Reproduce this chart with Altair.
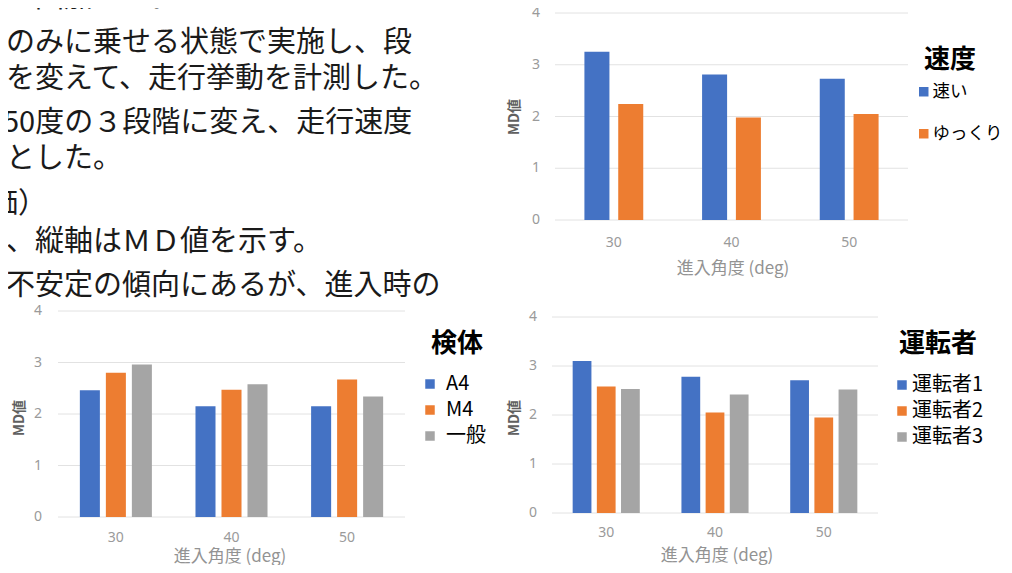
import altair as alt
import pandas as pd

# ---------------- data ----------------
angles = ["30", "40", "50"]
y_ticks = [0, 1, 2, 3, 4]
colors = ["#4472C4", "#ED7D31", "#A5A5A5"]

speed_series = ["速い", "ゆっくり"]
speed_fast = [3.25, 2.81, 2.73]
speed_slow = [2.24, 1.98, 2.05]

sample_series = ["A4", "M4", "一般"]
sample_a4 = [2.46, 2.15, 2.15]
sample_m4 = [2.80, 2.47, 2.67]
sample_gen = [2.96, 2.58, 2.34]

driver_series = ["運転者1", "運転者2", "運転者3"]
driver_1 = [3.10, 2.78, 2.71]
driver_2 = [2.58, 2.05, 1.95]
driver_3 = [2.53, 2.42, 2.52]

x_title = "進入角度 (deg)"
y_title = "MD値"

doc_lines = [
    "を１回加えた。",
    "のみに乗せる状態で実施し、段",
    "を変えて、走行挙動を計測した。",
    "50度の３段階に変え、走行速度",
    "とした。",
    "価）",
    "、縦軸はＭＤ値を示す。",
    "不安定の傾向にあるが、進入時の",
]
# layout (view px): left start and vertical centre of each document line
doc_left = [-31, -2, -2, -5, -2, -19, -2, -2]
doc_y = [-10, 35, 71, 115, 151, 196, 234, 278]

CJK = "Noto Sans CJK JP"
TICK_COLOR = "#9a9a9a"
GRID_COLOR = "#e2e2e2"


def long_table(series, columns):
    rows = []
    for s, vals in zip(series, columns):
        for a, v in zip(angles, vals):
            rows.append({"angle": a, "series": s, "value": v})
    return pd.DataFrame(rows)


def panel(df, series, legend_title, xr, yr, pad_in, pad_out, off_pad,
          ytick_x, xtick_y, ytitle_xy, xtitle_xy, ltitle_xy, legend):
    xs = alt.Scale(domain=angles, range=xr, paddingInner=pad_in, paddingOuter=pad_out)
    ys = alt.Scale(domain=[0, 4], range=yr, nice=False, zero=True)
    ticks = pd.DataFrame({"tick": y_ticks})

    grid = alt.Chart(ticks).mark_rule(color=GRID_COLOR, strokeWidth=1).encode(
        y=alt.Y("tick:Q", scale=ys, axis=None),
        x=alt.value(xr[0]), x2=alt.value(xr[1]),
    )
    bars = alt.Chart(df).mark_bar().encode(
        x=alt.X("angle:N", scale=xs, axis=None, sort=angles),
        xOffset=alt.XOffset("series:N", sort=series,
                            scale=alt.Scale(domain=series, paddingInner=off_pad, paddingOuter=0)),
        y=alt.Y("value:Q", scale=ys, axis=None),
        color=alt.Color(
            "series:N", sort=series,
            scale=alt.Scale(domain=series, range=colors[:len(series)]),
            legend=alt.Legend(
                title=None, orient="none",
                legendX=legend["x"], legendY=legend["y"],
                labelFont=CJK, labelFontSize=legend.get("lfs", 20), labelColor="#000000",
                labelOffset=legend["lo"], rowPadding=legend["rp"], labelLimit=200,
                symbolType="square", symbolSize=90, symbolStrokeWidth=0,
                symbolOpacity=1, padding=0,
            ),
        ),
    )
    ylabels = alt.Chart(ticks).mark_text(
        font="Noto Sans", fontSize=14, color=TICK_COLOR, align="center", baseline="middle"
    ).encode(
        y=alt.Y("tick:Q", scale=ys, axis=None), x=alt.value(ytick_x), text="tick:Q"
    )
    xlabels = alt.Chart(pd.DataFrame({"angle": angles})).mark_text(
        font="Noto Sans", fontSize=14, color=TICK_COLOR, align="center", baseline="middle"
    ).encode(
        x=alt.X("angle:N", scale=xs, axis=None, sort=angles), y=alt.value(xtick_y), text="angle:N"
    )
    ytitle = alt.Chart(pd.DataFrame({"t": [y_title]})).mark_text(
        font=CJK, fontSize=14, fontWeight="bold", color="#606060", angle=270,
        align="center", baseline="middle"
    ).encode(x=alt.value(ytitle_xy[0]), y=alt.value(ytitle_xy[1]), text="t:N")
    xtitle = alt.Chart(pd.DataFrame({"t": [x_title]})).mark_text(
        font=CJK, fontSize=17, color="#939393", align="center", baseline="middle"
    ).encode(x=alt.value(xtitle_xy[0]), y=alt.value(xtitle_xy[1]), text="t:N")
    ltitle = alt.Chart(pd.DataFrame({"t": [legend_title]})).mark_text(
        font=CJK, fontSize=26, fontWeight="bold", color="#000000", align="left", baseline="middle"
    ).encode(x=alt.value(ltitle_xy[0]), y=alt.value(ltitle_xy[1]), text="t:N")
    return alt.layer(grid, bars, ylabels, xlabels, ytitle, xtitle, ltitle)


p1 = panel(long_table(speed_series, [speed_fast, speed_slow]), speed_series, "速度",
           xr=[547, 900], yr=[212, 5], pad_in=0.5, pad_out=0.25, off_pad=0.26,
           ytick_x=528, xtick_y=235, ytitle_xy=(507, 109), xtitle_xy=(725, 261),
           ltitle_xy=(916, 52),
           legend={"x": 907, "y": 75, "lo": 0, "rp": 23, "lfs": 17.5})

p2 = panel(long_table(sample_series, [sample_a4, sample_m4, sample_gen]), sample_series, "検体",
           xr=[50, 397], yr=[509, 303], pad_in=0.377, pad_out=0.189, off_pad=0.23,
           ytick_x=30, xtick_y=530, ytitle_xy=(12, 410), xtitle_xy=(222, 549),
           ltitle_xy=(423, 336),
           legend={"x": 412, "y": 366, "lo": 6, "rp": 6})

p3 = panel(long_table(driver_series, [driver_1, driver_2, driver_3]), driver_series, "運転者",
           xr=[544, 870], yr=[505, 309], pad_in=0.383, pad_out=0.19, off_pad=0.224,
           ytick_x=525, xtick_y=525, ytitle_xy=(507, 410), xtitle_xy=(709, 548),
           ltitle_xy=(891, 336),
           legend={"x": 884, "y": 367, "lo": 0, "rp": 6})

doc_layers = [
    alt.Chart(pd.DataFrame({"t": [line]})).mark_text(
        font=CJK, fontSize=29, color="#1a1a1a", align="left", baseline="middle"
    ).encode(x=alt.value(xl), y=alt.value(yc), text="t:N")
    for line, xl, yc in zip(doc_lines, doc_left, doc_y)
]

chart = alt.layer(p1, p2, p3, *doc_layers).resolve_scale(
    x="independent", y="independent", color="independent", xOffset="independent"
).properties(
    width=996, height=557, padding=0, autosize=alt.AutoSizeParams(type="none")
).configure_view(stroke=None)

chart.save("out.html", embed_options={"renderer": "svg", "actions": False})
